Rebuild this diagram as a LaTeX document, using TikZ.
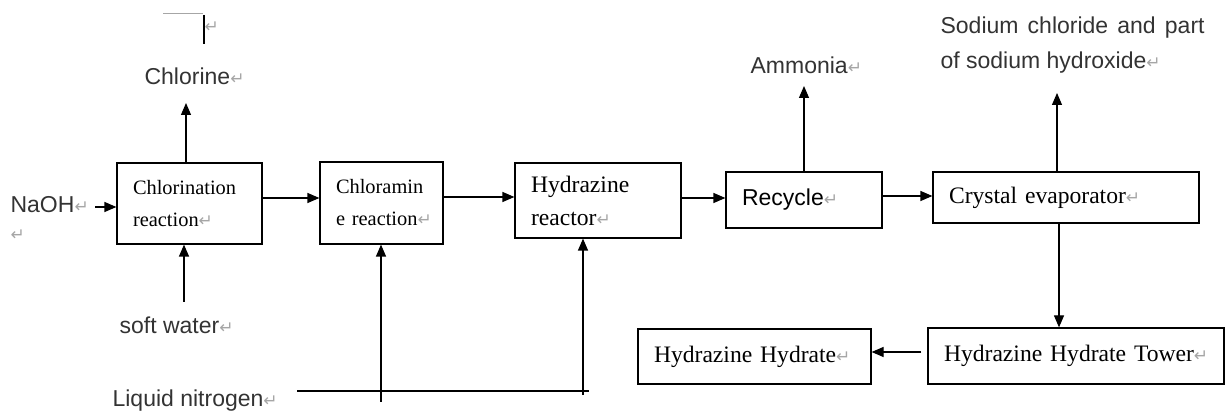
\documentclass[tikz,border=0pt]{standalone}
\usepackage{fontspec}
\setmainfont{Liberation Serif}
\newfontfamily\labelfont{Liberation Sans}
\newfontfamily\markfont{DejaVu Sans}
\usetikzlibrary{arrows.meta}
\definecolor{markgray}{HTML}{A6A6A6}
\definecolor{labelgray}{HTML}{333333}
\newcommand{\ret}{{\markfont\fontsize{8.5}{9}\selectfont\color{markgray}↵}}
\newcommand{\smallproc}{\fontsize{10.2}{16}\selectfont}
\newcommand{\bigproc}{\fontsize{11.8}{16.5}\selectfont}
\newcommand{\labeltext}{\labelfont\fontsize{11.5}{17.5}\selectfont\color{labelgray}}
\begin{document}
\begin{tikzpicture}[x=0.5pt,y=-0.5pt,line width=0.6pt]

	\tikzstyle{unit}=[draw,inner xsep=8pt,inner ysep=0pt,align=left,text=black]
	\tikzstyle{stream}=[inner sep=0pt,anchor=base west,font=\labeltext]
	\tikzstyle{flow}=[-{Triangle[length=6pt,width=5pt]}]
	\useasboundingbox (0,0) rectangle (1226,416);

	% process units
	\node[unit,text width=56.5pt,minimum height=40.5pt,font=\smallproc] (chlor) at (189.5,203.5) {Chlorination\\reaction\ret};
	\node[unit,text width=45.5pt,minimum height=41pt,font=\smallproc] (chloram) at (381.5,203) {Chloramin\\\mbox{e reaction\ret}};
	\node[unit,text width=67pt,minimum height=37.5pt,font=\bigproc] (hydreact) at (598,200.5) {Hydrazine\\reactor\ret};
	\node[unit,text width=62pt,minimum height=28pt,font=\labeltext] (recycle) at (804,200) {Recycle\ret};
	\node[unit,text width=117pt,minimum height=25.5pt,font=\bigproc] (crystal) at (1066,197.5) {\mbox{Crystal evaporator\ret}};
	\node[unit,text width=132pt,minimum height=28pt,font=\bigproc] (tower) at (1076,356) {\mbox{Hydrazine Hydrate Tower\ret}};
	\node[unit,text width=100.5pt,minimum height=27.5pt,font=\bigproc] (hydrate) at (754.5,356.5) {\mbox{Hydrazine Hydrate\ret}};

	% streams
	\node[stream] (chlorine) at (144,85) {Chlorine\ret};
	\node[stream] (naoh) at (10,213) {NaOH\ret};
	\node[stream] (naohret) at (10,241) {\ret};
	\node[stream] (water) at (119,334) {soft water\ret};
	\node[stream] (nitrogen) at (112,407) {Liquid nitrogen\ret};
	\node[stream] (ammonia) at (750,74) {Ammonia\ret};
	\node[stream,anchor=north west,text width=132pt,align=justify] (salt) at (940,16) {Sodium chloride and part of sodium hydroxide\ret};

	% free ends
	\coordinate (clup) at (186,103);
	\coordinate (amup) at (804,86);
	\coordinate (saltup) at (1057,93);
	\coordinate (waterin) at (184,302);
	\coordinate (naohin) at (95,207);
	\coordinate (lnleft) at (297,391);
	\coordinate (lnright) at (589,391);
	\coordinate (lnone) at (381,402);
	\coordinate (lntwo) at (583,395);

	% main line
	\draw[flow] ([yshift=2.75pt]chlor.east) -- ([yshift=2.75pt]chlor.east -| chloram.west);
	\draw[flow] ([yshift=3pt]chloram.east) -- ([yshift=3pt]chloram.east -| hydreact.west);
	\draw[flow] ([yshift=1.25pt]hydreact.east) -- ([yshift=1.25pt]hydreact.east -| recycle.west);
	\draw[flow] ([yshift=2pt]recycle.east) -- ([yshift=2pt]recycle.east -| crystal.west);
	\draw[flow] ([xshift=-3.5pt]crystal.south) -- ([xshift=-3.5pt]crystal.south |- tower.north);
	\draw[flow] ([shift={(-3pt,2pt)}]tower.west) -- ([yshift=2pt]tower.west -| hydrate.east);

	% feeds and products
	\draw[flow] (naohin) -- (naohin -| chlor.west);
	\draw[flow] (waterin) -- (waterin |- chlor.south);
	\draw[flow] (clup |- chlor.north) -- (clup);
	\draw[flow] (amup |- recycle.north) -- (amup);
	\draw[flow] (saltup |- crystal.north) -- (saltup);
	\draw (lnleft) -- (lnright);
	\draw[flow] (lnone) -- (lnone |- chloram.south);
	\draw[flow] (lntwo) -- (lntwo |- hydreact.south);

	% stray marks
	\draw[markgray,line width=0.4pt] (163,13) -- (203,13);
	\draw (204,15) -- (204,44);
	\node[stream] (topret) at (204,33) {\ret};
\end{tikzpicture}
\end{document}
